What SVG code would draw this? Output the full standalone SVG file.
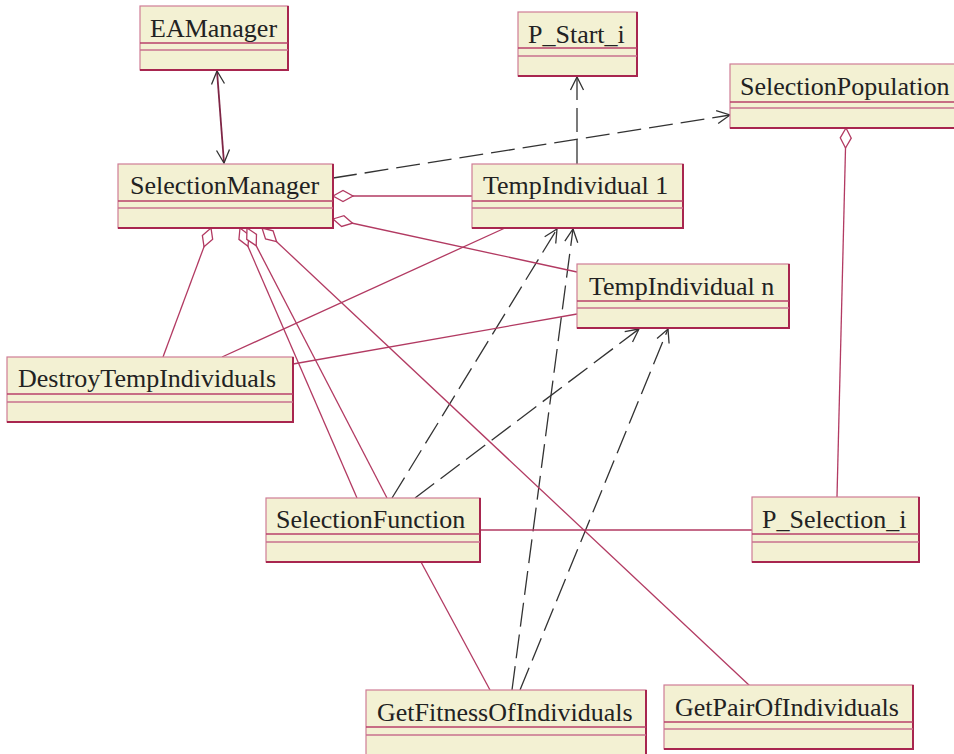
<svg xmlns="http://www.w3.org/2000/svg" width="954" height="754" viewBox="0 0 954 754">
  <style>
    .box { fill: #f3f1d3; stroke: #cf7d96; stroke-width: 1.2; }
    .edge { fill: none; stroke: #a8264f; stroke-width: 2; }
    .sep { stroke: #b8406a; stroke-width: 1.3; }
    .sep2 { stroke: #c9718e; stroke-width: 1.3; }
    .name { font-family: "Liberation Serif", "Times New Roman", serif; font-size: 26px; fill: #222; }
    .assoc { fill: none; stroke: #b23a62; stroke-width: 1.3; }
    .nav { fill: none; stroke: #7e2545; stroke-width: 1.8; }
    .dep { fill: none; stroke: #333; stroke-width: 1.3; stroke-dasharray: 24 8; }
  </style>
  <defs>
    <marker id="open" markerUnits="userSpaceOnUse" markerWidth="16" markerHeight="16" refX="13" refY="6.5" orient="auto-start-reverse" overflow="visible">
      <path d="M0,0 L13,6.5 L0,13" fill="none" stroke="#333" stroke-width="1.3"/>
    </marker>
    <marker id="diamond" markerUnits="userSpaceOnUse" markerWidth="22" markerHeight="14" refX="0" refY="5.5" orient="auto" overflow="visible">
      <path d="M0,5.5 L10,0 L20,5.5 L10,11 Z" fill="#fff" stroke="#b23a62" stroke-width="1.3"/>
    </marker>
  </defs>

  <!-- connectors -->
  <g id="connectors">
    <!-- EAManager <-> SelectionManager -->
    <line class="nav" x1="217" y1="71" x2="224" y2="163" marker-start="url(#open)" marker-end="url(#open)"/>
    <!-- dependencies -->
    <line class="dep" x1="333" y1="178" x2="730" y2="115" marker-end="url(#open)"/>
    <line class="dep" x1="577" y1="164" x2="577" y2="77" marker-end="url(#open)"/>
    <line class="dep" x1="392" y1="498" x2="557" y2="229" marker-end="url(#open)"/>
    <line class="dep" x1="415" y1="498" x2="639" y2="329" marker-end="url(#open)"/>
    <line class="dep" x1="512" y1="690" x2="573" y2="229" marker-end="url(#open)"/>
    <line class="dep" x1="520" y1="690" x2="668" y2="329" marker-end="url(#open)"/>
    <!-- aggregations -->
    <line class="assoc" x1="333" y1="196" x2="472" y2="196" marker-start="url(#diamond)"/>
    <line class="assoc" x1="333" y1="219" x2="577" y2="272" marker-start="url(#diamond)"/>
    <line class="assoc" x1="211" y1="228" x2="163" y2="357" marker-start="url(#diamond)"/>
    <line class="assoc" x1="240" y1="228" x2="357" y2="498" marker-start="url(#diamond)"/>
    <line class="assoc" x1="247" y1="228" x2="387" y2="498" marker-start="url(#diamond)"/>
    <line class="assoc" x1="262" y1="228" x2="750" y2="686" marker-start="url(#diamond)"/>
    <line class="assoc" x1="846" y1="128" x2="837" y2="497" marker-start="url(#diamond)"/>
    <!-- plain associations -->
    <line class="assoc" x1="505" y1="228" x2="222" y2="357"/>
    <line class="assoc" x1="577" y1="314" x2="293" y2="364"/>
    <line class="assoc" x1="480" y1="530" x2="752" y2="530"/>
    <line class="assoc" x1="421" y1="562" x2="490" y2="690"/>
  </g>

  <!-- classes -->
  <g id="EAManager">
    <rect class="box" x="140" y="6" width="148" height="64"/>
    <polyline class="edge" points="288,6 288,70 140,70"/>
    <line class="sep" x1="140" y1="43" x2="288" y2="43"/>
    <line class="sep2" x1="140" y1="50" x2="288" y2="50"/>
    <text class="name" x="150" y="37">EAManager</text>
  </g>
  <g id="P_Start_i">
    <rect class="box" x="518" y="12" width="119" height="64"/>
    <polyline class="edge" points="637,12 637,76 518,76"/>
    <line class="sep" x1="518" y1="48" x2="637" y2="48"/>
    <line class="sep2" x1="518" y1="56" x2="637" y2="56"/>
    <text class="name" x="528" y="43">P_Start_i</text>
  </g>
  <g id="SelectionPopulation">
    <rect class="box" x="730" y="64" width="240" height="64"/>
    <polyline class="edge" points="970,128 730,128"/>
    <line class="sep" x1="730" y1="102" x2="970" y2="102"/>
    <line class="sep2" x1="730" y1="108" x2="970" y2="108"/>
    <text class="name" x="740" y="95">SelectionPopulation</text>
  </g>
  <g id="SelectionManager">
    <rect class="box" x="118" y="164" width="215" height="64"/>
    <polyline class="edge" points="333,164 333,228 118,228"/>
    <line class="sep" x1="118" y1="201" x2="333" y2="201"/>
    <line class="sep2" x1="118" y1="208" x2="333" y2="208"/>
    <text class="name" x="130" y="194">SelectionManager</text>
  </g>
  <g id="TempIndividual1">
    <rect class="box" x="472" y="164" width="211" height="64"/>
    <polyline class="edge" points="683,164 683,228 472,228"/>
    <line class="sep" x1="472" y1="201" x2="683" y2="201"/>
    <line class="sep2" x1="472" y1="208" x2="683" y2="208"/>
    <text class="name" x="483" y="194">TempIndividual 1</text>
  </g>
  <g id="TempIndividualN">
    <rect class="box" x="577" y="264" width="212" height="64"/>
    <polyline class="edge" points="789,264 789,328 577,328"/>
    <line class="sep" x1="577" y1="301" x2="789" y2="301"/>
    <line class="sep2" x1="577" y1="308" x2="789" y2="308"/>
    <text class="name" x="589" y="295">TempIndividual n</text>
  </g>
  <g id="DestroyTempIndividuals">
    <rect class="box" x="7" y="357" width="286" height="65"/>
    <polyline class="edge" points="293,357 293,422 7,422"/>
    <line class="sep" x1="7" y1="394" x2="293" y2="394"/>
    <line class="sep2" x1="7" y1="402" x2="293" y2="402"/>
    <text class="name" x="18" y="387">DestroyTempIndividuals</text>
  </g>
  <g id="SelectionFunction">
    <rect class="box" x="266" y="498" width="214" height="64"/>
    <polyline class="edge" points="480,498 480,562 266,562"/>
    <line class="sep" x1="266" y1="534" x2="480" y2="534"/>
    <line class="sep2" x1="266" y1="542" x2="480" y2="542"/>
    <text class="name" x="276" y="528">SelectionFunction</text>
  </g>
  <g id="P_Selection_i">
    <rect class="box" x="752" y="497" width="167" height="65"/>
    <polyline class="edge" points="919,497 919,562 752,562"/>
    <line class="sep" x1="752" y1="534" x2="919" y2="534"/>
    <line class="sep2" x1="752" y1="542" x2="919" y2="542"/>
    <text class="name" x="762" y="528">P_Selection_i</text>
  </g>
  <g id="GetFitnessOfIndividuals">
    <rect class="box" x="366" y="690" width="280" height="70"/>
    <polyline class="edge" points="646,690 646,760"/>
    <line class="sep" x1="366" y1="727" x2="646" y2="727"/>
    <line class="sep2" x1="366" y1="735" x2="646" y2="735"/>
    <text class="name" x="377" y="721">GetFitnessOfIndividuals</text>
  </g>
  <g id="GetPairOfIndividuals">
    <rect class="box" x="664" y="685" width="249" height="64"/>
    <polyline class="edge" points="913,685 913,749 664,749"/>
    <line class="sep" x1="664" y1="722" x2="913" y2="722"/>
    <line class="sep2" x1="664" y1="729" x2="913" y2="729"/>
    <text class="name" x="675" y="716">GetPairOfIndividuals</text>
  </g>
</svg>
